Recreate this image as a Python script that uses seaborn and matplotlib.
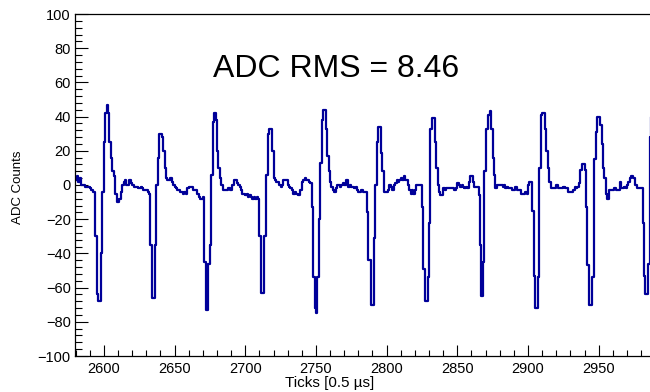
import numpy as np
import pandas as pd
import matplotlib
matplotlib.use("Agg")
import matplotlib.pyplot as plt
from matplotlib.ticker import MultipleLocator
import seaborn as sns

# ---- data (ADC counts per tick) ----
start_tick = 2580
seg0 = [3, 5, 2, 4, 0, 0, 0, -1, -1, -1, -2, -3, -4]
pulse1 = [-4, -30, -64, -68, -68, -40, -4, 25, 42, 47, 42, 25, 16, 8, 5, -5, -10, -10, -8, -4,
          0, 2, 3, 0, 0, 3, 1, 0, -1, -1, -1, -2, -2, -1, -2, -3, -3, -3, -4, -5]
pulse2 = [-35, -66, -66, -35, 0, 16, 30, 30, 28, 20, 10, 4, 3, 3, 4, 2, 0, -1, -2, -3,
          -3, -4, -4, -5, -4, -5, -2, -1, -1, -1, -3, -3, -3, -5, -7, -8, -8, -7]
pulse3 = [-45, -73, -73, -46, -35, 6, 37, 42, 38, 20, 10, 4, 0, -3, -3, -3, -3, -2, -3, -3,
          0, 3, 3, 1, 0, -1, -3, -5, -5, -6, -5, -7, -6, -7, -8, -7, -8, -7, -8]
pulse4 = [-30, -63, -63, -30, -30, 6, 30, 33, 33, 20, 4, 3, 2, 2, 0, -1, 0, 3, 3, 3,
          0, -1, -2, -3, -5, -4, -5, -6, -6, -3, 2, 3, 4, 3, 3, 2, 1]
pulse5 = [-13, -54, -72, -75, -54, -20, 13, 38, 44, 44, 33, 17, 8, 2, -1, -3, -4, -2, 0, 0,
          -1, 0, 1, 0, 3, 3, -1, 0, -1, -1, -2, -1, -3, -4, -4, -3, -4, -4, -4]
pulse6 = [-16, -44, -44, -70, -70, -31, 0, 25, 34, 34, 19, 8, -4, -4, -4, -3, 0, -1, -3, 0,
          1, 3, 2, 3, 4, 3, 5, 3, 3, 0, -3, -5, -3, -5, -3, 0, 0, 0, 0]
pulse7 = [-13, -49, -68, -68, -54, -22, 33, 39, 39, 25, 10, 0, -4, -6, -6, -2, -3, -2, -2, -2,
          -2, -2, -2, -3, -2, 1, 0, -1, 0, -1, -2, -1, -2, 2, 5, 5, 2, -1, -1, -1, -6]
pulse8 = [-35, -65, -45, 8, 33, 33, 41, 43, 33, 16, 6, -2, 0, 0, 0, 0, -1, 0, -2, -1,
          -2, -2, -2, -3, -3, -1, -3, -3, -3, -5, -5, -5, -4, -5, 0, 2, 2]
pulse9 = [-15, -53, -72, -72, -54, 10, 41, 42, 42, 33, 20, 10, 2, -2, -2, -2, -2, 0, -2, -2,
          -2, -2, -1, -2, -2, -4, -4, -4, -4, -3, -1, -2, -1, 1]
pulse10 = [9, 12, 12, 9, -13, -47, -70, -70, -54, -54, 15, 31, 40, 40, 35, 24, 10, 4, -5, -8,
           -3, -3, -3, -3, -2, -3, -3, -3, 2, -2, -2, -1, -2, 0, 2, 4, 5, 4, 4, 0,
           -2, -2, -2, -2]
pulse11 = [-22, -53, -64, -64, -46, 28, 40]

rms_text = "ADC RMS = 8.46"
x_ticks = [2600, 2650, 2700, 2750, 2800, 2850, 2900, 2950]
y_ticks = [-100, -80, -60, -40, -20, 0, 20, 40, 60, 80, 100]

adc = (seg0 + pulse1 + pulse2 + pulse3 + pulse4 + pulse5 + pulse6 + pulse7
       + pulse8 + pulse9 + pulse10 + pulse11)
ticks = np.arange(start_tick, start_tick + len(adc) + 1)
df = pd.DataFrame({"tick": ticks, "adc": adc + [adc[-1]]})

# ---- style ----
sns.set_theme(style="ticks")
plt.rcParams["font.family"] = ["Liberation Sans", "DejaVu Sans"]
plt.rcParams["text.color"] = "black"
plt.rcParams["axes.labelcolor"] = "black"
plt.rcParams["xtick.color"] = "black"
plt.rcParams["ytick.color"] = "black"

fig = plt.figure(figsize=(6.5, 3.92), dpi=100)
ax = fig.add_axes([75 / 650, 36 / 392, 575 / 650, 342 / 392])

sns.lineplot(data=df, x="tick", y="adc", drawstyle="steps-post", color="#000099",
             linewidth=1.6, ax=ax, estimator=None, sort=False)

ax.set_xlim(2579.6, 2986.3)
ax.set_ylim(-100, 100)
ax.set_xticks(x_ticks)
ax.set_yticks(y_ticks)
ax.xaxis.set_minor_locator(MultipleLocator(10))
ax.yaxis.set_minor_locator(MultipleLocator(4))

ax.tick_params(axis="y", which="major", direction="in", length=9.5, width=0.8,
               labelsize=10.5, pad=3, colors="black")
ax.tick_params(axis="y", which="minor", direction="in", length=5, width=0.8,
               colors="black")
ax.tick_params(axis="x", which="major", direction="in", length=8, width=0.8,
               labelsize=10.5, pad=4, colors="black")
ax.tick_params(axis="x", which="minor", direction="in", length=4, width=0.8,
               colors="black")

for side in ["left", "bottom", "top"]:
    ax.spines[side].set_visible(True)
    ax.spines[side].set_color("black")
    ax.spines[side].set_linewidth(0.9)
ax.spines["right"].set_visible(False)

ax.set_xlabel("")
ax.set_ylabel("")
fig.text(18 / 650, 1 - 187 / 392, "ADC Counts", rotation=90, ha="center", va="center",
         fontsize=9.5, color="black")
fig.text(330 / 650, 1 - 383 / 392, "Ticks [0.5 \u00b5s]", ha="center", va="center",
         fontsize=11, color="black")
fig.text(213 / 650, 1 - 77 / 392, rms_text, ha="left", va="baseline", fontsize=23,
         color="black")

fig.savefig("out.png", dpi=100)
